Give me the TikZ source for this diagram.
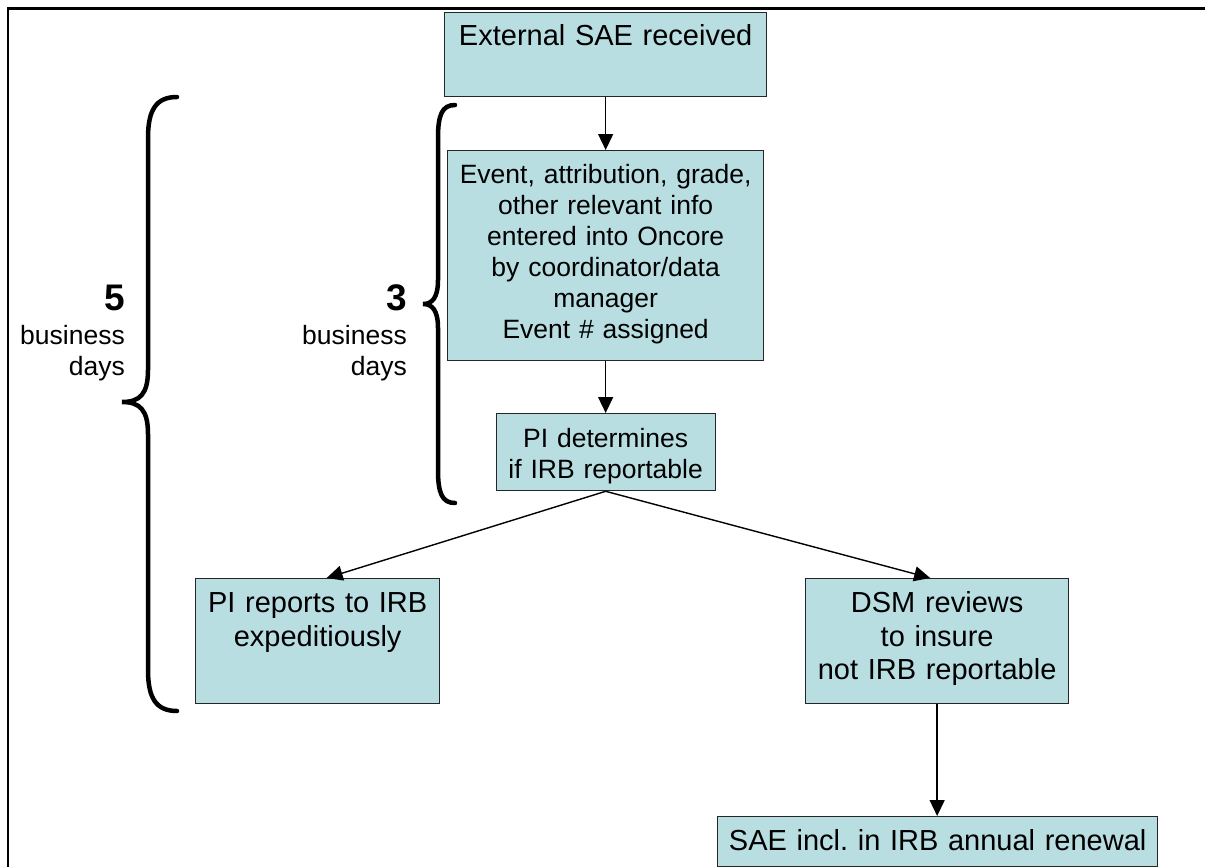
\documentclass[tikz,border=0pt]{standalone}
\usepackage{fontspec}
\setmainfont{Liberation Sans}
\usetikzlibrary{arrows.meta}
\definecolor{boxblue}{RGB}{185,222,226}

\begin{document}
\begin{tikzpicture}[x=1pt, y=-1pt,
    box/.style={draw=black!85, line width=1.3pt, fill=boxblue, inner sep=0pt, align=center, anchor=north west},
    big/.style={font=\fontsize{29}{33.5}\selectfont},
    small/.style={font=\fontsize{26.5}{31}\selectfont},
    arr/.style={line width=1.4pt, -{Triangle[length=16pt,width=15pt]}},
    brace/.style={line width=4.5pt, line cap=round},
    days/.style={font=\fontsize{26.5}{31}\selectfont, align=right, inner sep=0pt, text width=120pt, anchor=base east}]
    \useasboundingbox (0,0) rectangle (1205,867);
    \draw[line width=2.5pt] (8,868) -- (8,8.5) -- (1206,8.5);

    \node[box, big, text width=322pt, text height=33pt, text depth=51pt] (ext) at (444,12) {External SAE received};
    \node[box, small, text width=316pt, text height=33pt, text depth=177pt] (event) at (447,150)
        {Event, attribution, grade,\\other relevant info\\entered into Oncore\\by coordinator/data\\manager\\Event \# assigned};
    \node[box, small, text width=219pt, text height=34pt, text depth=43pt] (pidet) at (495.5,413)
        {PI determines\\if IRB reportable};
    \node[box, big, text width=244pt, text height=34pt, text depth=91pt] (pirep) at (195,578)
        {PI reports to IRB\\expeditiously};
    \node[box, big, text width=263pt, text height=34pt, text depth=91pt] (dsm) at (805,578)
        {DSM reviews\\to insure\\not IRB reportable};
    \node[box, big, text width=440pt, text height=34pt, text depth=16pt] (renew) at (717,816)
        {SAE incl.\ in IRB annual renewal};

    \draw[arr] (ext) -- (event);
    \draw[arr] (event) -- (pidet);
    \draw[arr] (pidet.south) -- ([xshift=9pt]pirep.north);
    \draw[arr] (pidet.south) -- ([xshift=-7pt]dsm.north);
    \draw[arr] (dsm) -- (dsm |- renew.north);

    \node[days] (five) at (125,310) {{\fontsize{37}{37}\selectfont\bfseries 5}\\[3pt]business\\days};
    \node[days] (three) at (407,310) {{\fontsize{37}{37}\selectfont\bfseries 3}\\[3pt]business\\days};

    \draw[brace] (177,97) .. controls (156,97) and (148,110) .. (148,138) -- (148,370)
        .. controls (148,394) and (140,402) .. (122,402) .. controls (140,402) and (148,410) .. (148,434)
        -- (148,670) .. controls (148,698) and (156,711) .. (177,711);
    \draw[brace] (455,105) .. controls (442,105) and (438,115) .. (438,138) -- (438,280)
        .. controls (438,298) and (432,304) .. (423,304) .. controls (432,304) and (438,310) .. (438,328)
        -- (438,470) .. controls (438,493) and (442,503) .. (455,503);
\end{tikzpicture}
\end{document}
